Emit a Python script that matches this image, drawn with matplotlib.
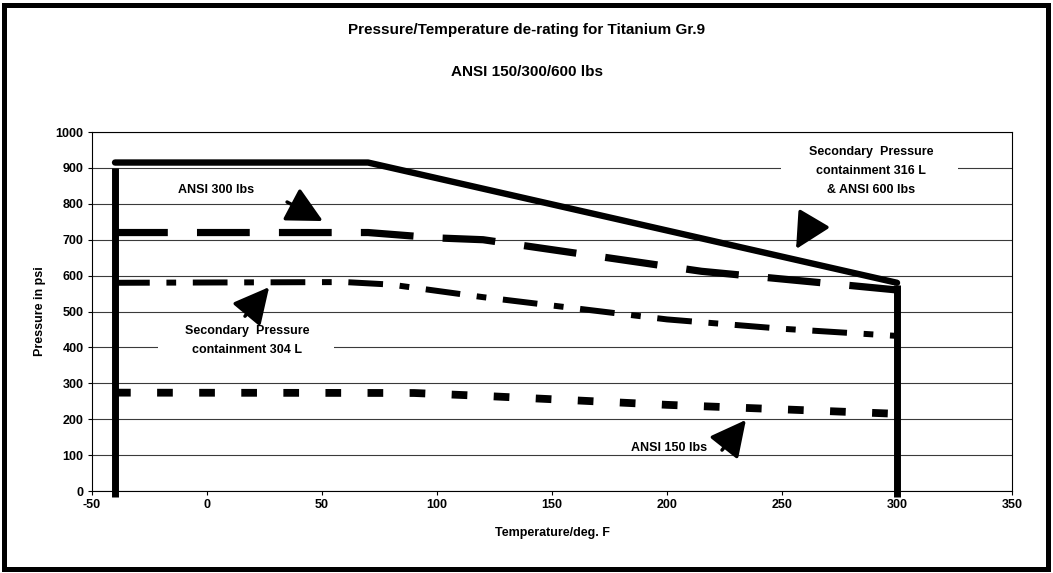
import matplotlib.pyplot as plt
from matplotlib.patches import Rectangle

plt.rcParams['font.family'] = ['Liberation Sans', 'DejaVu Sans']
plt.rcParams['lines.scale_dashes'] = False
plt.rcParams['axes.unicode_minus'] = False

# data
temp_max = [-40, 70, 300]
p_max = [915, 915, 580]

temp_300 = [-40, 70, 100, 120, 215, 300]
p_300 = [720, 720, 705, 700, 612, 560]

temp_304 = [-40, 60, 80, 120, 200, 250, 300]
p_304 = [580, 582, 575, 540, 478, 452, 432]

temp_150 = [-40, 90, 120, 200, 300]
p_150 = [274, 273, 265, 240, 215]

# temperature limits drawn as vertical bars
t_min, t_lim = -40, 300
bar_low, bar_left_top, bar_right_top = -17, 900, 575

x_ticks = [-50, 0, 50, 100, 150, 200, 250, 300, 350]
y_ticks = [0, 100, 200, 300, 400, 500, 600, 700, 800, 900, 1000]

fig = plt.figure(figsize=(10.53, 5.73), dpi=100)
ax = fig.add_axes([0.0874, 0.1431, 0.8737, 0.6265])

# vertical temperature limits
ax.plot([t_min, t_min], [bar_low, bar_left_top], color='k', lw=5, solid_capstyle='butt', clip_on=False, zorder=4)
ax.plot([t_lim, t_lim], [bar_low, bar_right_top], color='k', lw=5, solid_capstyle='butt', clip_on=False, zorder=4)

# 316 L / ANSI 600
ax.plot(temp_max, p_max, color='k', lw=4.6, solid_capstyle='round', solid_joinstyle='round', zorder=3)
# ANSI 300
ax.plot(temp_300, p_300, color='k', lw=5.2, dashes=(38, 21), dash_capstyle='butt', zorder=3)
# 304 L
ax.plot(temp_304, p_304, color='k', lw=4.3, dashes=(25, 12, 7, 12), dash_capstyle='butt', zorder=3)
# ANSI 150
ax.plot(temp_150, p_150, color='k', lw=5.6, dashes=(11.3, 19), dash_capstyle='butt', zorder=3)

ax.set_xlim(-50, 350)
ax.set_ylim(0, 1000)
ax.set_xticks(x_ticks)
ax.set_yticks(y_ticks)
ax.tick_params(axis='both', direction='out', length=3, width=0.8, labelsize=9, pad=3)
for lab in ax.get_xticklabels() + ax.get_yticklabels():
    lab.set_fontweight('bold')
ax.yaxis.grid(True, color='#3a3a3a', lw=0.8)
ax.set_axisbelow(True)
for sp in ax.spines.values():
    sp.set_color('k')
    sp.set_linewidth(0.8)

# white text boxes over the gridlines
ax.add_patch(Rectangle((-21.3, 388), 76.5, 24, facecolor='white', edgecolor='none', zorder=2))
ax.add_patch(Rectangle((249.6, 888), 76.9, 24, facecolor='white', edgecolor='none', zorder=2))

txt = dict(fontsize=9, fontweight='bold', ha='center', va='center', zorder=6)
ax.text(3.9, 838, 'ANSI 300 lbs', **txt)
ax.text(17.4, 419, 'Secondary  Pressure\ncontainment 304 L', linespacing=1.8, **txt)
ax.text(288.7, 891, 'Secondary  Pressure\ncontainment 316 L\n& ANSI 600 lbs', linespacing=1.8, **txt)
ax.text(200.9, 120, 'ANSI 150 lbs', **txt)

arrow = dict(arrowstyle='-|>,head_length=1.1,head_width=0.56', mutation_scale=20,
             color='k', lw=2.5, shrinkA=0, shrinkB=0)
ax.annotate('', xy=(50.4, 752), xytext=(34.8, 805), arrowprops=arrow, zorder=6)
ax.annotate('', xy=(27.0, 568), xytext=(16.5, 487), arrowprops=arrow, zorder=6)
ax.annotate('', xy=(256.1, 674), xytext=(263.0, 749), arrowprops=arrow, zorder=6)
ax.annotate('', xy=(234.3, 198), xytext=(223.9, 114), arrowprops=arrow, zorder=6)

fig.text(527 / 1053, 1 - 30 / 573, 'Pressure/Temperature de-rating for Titanium Gr.9',
         fontsize=11, fontweight='bold', ha='center', va='center')
fig.text(527 / 1053, 1 - 72 / 573, 'ANSI 150/300/600 lbs',
         fontsize=11, fontweight='bold', ha='center', va='center')
fig.text(40 / 1053, 1 - 311 / 573, 'Pressure in psi', rotation=90,
         fontsize=9, fontweight='bold', ha='center', va='center')
fig.text(552 / 1053, 1 - 533 / 573, 'Temperature/deg. F',
         fontsize=9, fontweight='bold', ha='center', va='center')

# outer chart border
fig.patches.append(Rectangle((0.004, 0.007), 0.9908, 0.9851, transform=fig.transFigure,
                             fill=False, edgecolor='k', lw=3.6))

fig.savefig('out.png', dpi=100)
